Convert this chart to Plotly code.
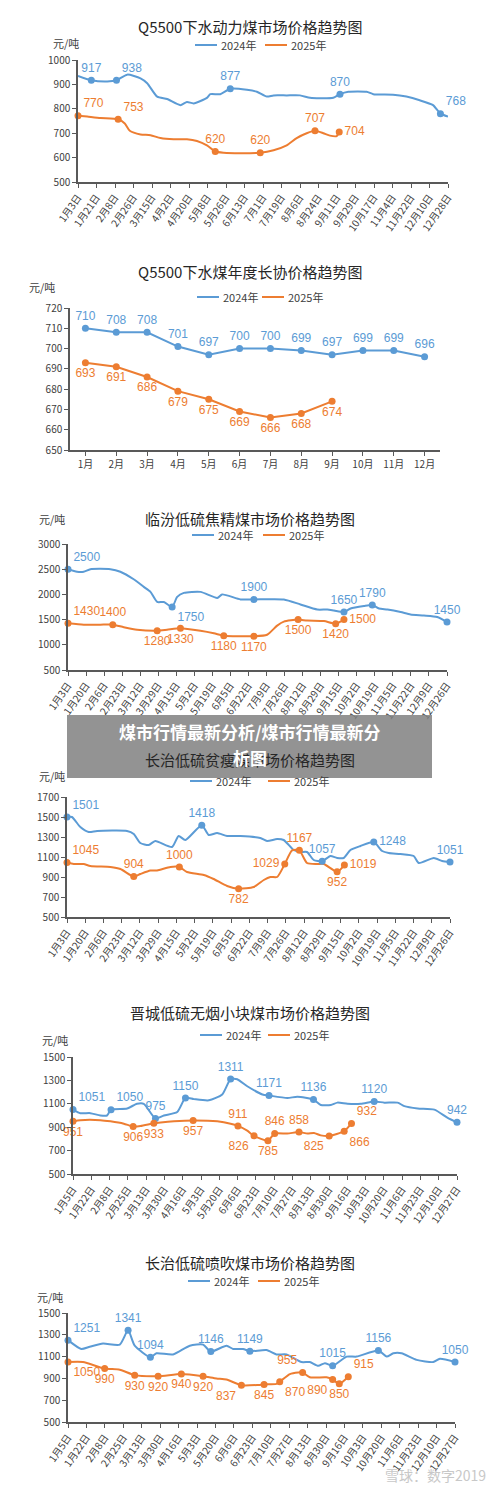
import plotly.graph_objects as go

BLUE = "#5b9bd5"
ORANGE = "#ed7d31"
FONT = "Noto Sans CJK SC"
H = 1493
W = 500
OFF = 8  # page offset of the figure in the browser

# ---------- Panel 1: Q5500下水动力煤 ----------
p1_ticks = ["1月3日","1月21日","2月8日","2月26日","3月15日","4月2日","4月20日","5月8日","5月26日","6月13日","7月1日","7月19日","8月6日","8月24日","9月11日","9月29日","10月17日","11月4日","11月22日","12月10日","12月28日"]
p1_b_x = [0,0.72,1.58,2.08,2.66,3.38,3.74,4.28,4.82,5.53,5.89,6.25,6.97,7.15,7.69,8.23,9.13,9.67,10.21,10.57,11.28,12.0,12.54,13.08,13.8,14.16,14.61,15.6,15.96,17.03,17.75,18.47,19.19,19.59,20]
p1_b_y = [935,917,912,917,940,925,905,850,840,815,828,822,845,860,860,882,878,870,850,855,855,855,845,843,845,860,870,870,860,858,850,835,815,780,768]
p1_o_x = [0,0.5,1.22,2.17,2.53,2.8,3.38,3.92,4.46,5.17,5.89,6.43,6.97,7.42,7.87,8.77,9.85,10.57,11.28,11.82,12.36,12.81,13.26,13.62,13.98,14.12]
p1_o_y = [772,768,762,757,740,710,695,692,680,675,675,668,650,625,620,618,620,630,650,680,700,710,700,690,688,705]
p1_bl = [(0.72,917,"917","top center"),(2.08,917,"938","top right"),(8.23,882,"877","top center"),(14.16,860,"870","top center"),(19.59,780,"768","top right")]
p1_ol = [(0,772,"770","top right"),(2.17,757,"753","top right"),(7.42,625,"620","top center"),(9.85,620,"620","top center"),(12.81,710,"707","top center"),(14.12,705,"704","middle right")]

# ---------- Panel 2: Q5500下水煤年度长协 ----------
p2_ticks = ["1月","2月","3月","4月","5月","6月","7月","8月","9月","10月","11月","12月"]
p2_b = [710,708,708,701,697,700,700,699,697,699,699,696]
p2_o = [693,691,686,679,675,669,666,668,674]

# ---------- Panel 3: 临汾低硫焦精煤 ----------
p3_ticks = ["1月3日","1月20日","2月6日","2月23日","3月12日","3月29日","4月15日","5月2日","5月19日","6月5日","6月22日","7月9日","7月26日","8月12日","8月29日","9月15日","10月2日","10月19日","11月5日","11月22日","12月9日","12月26日"]
p3_b_x = [0,0.5,0.87,1.24,2.35,2.9,3.64,4.2,4.57,4.94,5.31,5.77,6.05,6.42,7.34,8.27,8.54,9.56,10.3,11.96,12.88,13.81,14.37,14.74,15.29,15.66,16.4,16.86,17.23,17.7,18.43,18.98,19.72,20.46,21]
p3_b_y = [2500,2450,2450,2500,2500,2450,2300,2150,2050,1850,1850,1750,1950,2030,2050,1930,2000,1900,1900,1900,1800,1700,1700,1680,1650,1720,1770,1790,1720,1700,1650,1600,1580,1550,1450]
p3_o_x = [0,0.87,1.79,2.48,3.09,3.83,4.94,5.49,6.23,7.34,8.08,8.63,9.56,10.3,11.03,11.59,11.96,12.75,13.25,14.18,14.83,15.29]
p3_o_y = [1430,1400,1400,1400,1350,1300,1280,1300,1330,1280,1230,1180,1170,1170,1200,1380,1460,1500,1480,1470,1420,1500]
p3_bl = [(0,2500,"2500","top right"),(5.77,1750,"1750","bottom right"),(10.3,1900,"1900","top center"),(15.29,1650,"1650","top center"),(16.86,1790,"1790","top center"),(21,1450,"1450","top center")]
p3_ol = [(0,1430,"1430","top right"),(2.48,1400,"1400","top center"),(4.94,1280,"1280","bottom center"),(6.23,1330,"1330","bottom center"),(8.63,1180,"1180","bottom center"),(10.3,1170,"1170","bottom center"),(12.75,1500,"1500","bottom center"),(14.83,1420,"1420","bottom center"),(15.29,1500,"1500","middle right")]

# ---------- Panel 4: 长治低硫贫瘦煤 ----------
p4_ticks = p3_ticks
p4_b_x = [0,0.27,0.73,1.19,1.65,3.29,3.66,4.02,4.48,4.84,5.76,6.12,6.49,7.39,7.77,8.23,8.78,9.51,10.6,10.97,11.52,11.88,12.43,12.8,13.16,13.53,13.99,14.44,14.81,15.17,15.54,16.09,16.82,17.28,17.64,18.28,19.01,19.29,20.11,20.57,21]
p4_b_y = [1501,1500,1400,1350,1360,1360,1330,1240,1220,1260,1200,1310,1270,1418,1320,1340,1310,1310,1290,1260,1280,1270,1170,1150,1150,1070,1057,1110,1090,1090,1170,1210,1250,1160,1140,1130,1110,1040,1090,1060,1051]
p4_o_x = [0,0.37,0.91,1.28,2.38,2.93,3.66,4.02,4.57,4.94,5.67,6.16,6.58,7.5,8.04,8.78,9.41,10.24,10.79,11.15,11.52,11.94,12.34,12.74,13.16,13.71,14.08,14.81,15.21]
p4_o_y = [1045,1030,1030,1010,1000,980,904,930,965,965,1000,1000,950,920,880,810,782,800,870,900,900,1029,1167,1167,1040,1030,1030,952,1019]
p4_bl = [(0,1501,"1501","top right"),(7.39,1418,"1418","top center"),(13.99,1057,"1057","top center"),(16.82,1250,"1248","middle right"),(21,1051,"1051","top center")]
p4_ol = [(0,1045,"1045","top right"),(3.66,904,"904","top center"),(6.16,1000,"1000","top center"),(9.41,782,"782","bottom center"),(11.94,1029,"1029","middle left"),(12.74,1167,"1167","top center"),(14.81,952,"952","bottom center"),(15.21,1019,"1019","middle right")]

# ---------- Panel 5: 晋城低硫无烟小块煤 ----------
p5_ticks = ["1月5日","1月22日","2月8日","2月25日","3月13日","3月30日","4月16日","5月3日","5月20日","6月6日","6月23日","7月10日","7月27日","8月13日","8月30日","9月16日","10月3日","10月20日","11月6日","11月23日","12月10日","12月27日"]
p5_b_x = [0,0.4,0.95,1.5,1.86,2.08,2.96,3.5,3.87,4.51,4.97,5.7,6.15,6.61,7.43,8.16,8.62,8.98,9.53,10.36,10.72,11.72,12.27,13.15,13.55,14.1,14.46,15.01,15.74,16.47,17.03,17.75,18.12,18.85,19.76,20.49,21]
p5_b_y = [1051,1020,1020,1000,1000,1050,1060,1100,1100,975,1000,1030,1150,1140,1130,1180,1311,1310,1250,1180,1171,1150,1160,1136,1090,1090,1110,1100,1100,1120,1110,1110,1080,1060,1050,980,942]
p5_o_x = [0,0.4,1.5,2.05,2.78,3.29,3.69,4.42,4.79,5.52,6.57,7.89,8.62,9.02,9.53,9.9,10.66,11.03,11.72,12.36,12.82,13.18,13.55,14.01,14.83,15.23]
p5_o_y = [951,960,960,950,930,906,910,933,940,950,957,950,930,911,870,826,785,846,846,858,846,850,830,825,866,932]
p5_bl = [(0,1051,"1051","top right"),(2.08,1050,"1050","top right"),(4.51,975,"975","top center"),(6.15,1150,"1150","top center"),(8.62,1311,"1311","top center"),(10.72,1171,"1171","top center"),(13.15,1136,"1136","top center"),(16.47,1120,"1120","top center"),(21,942,"942","top center")]
p5_ol = [(0,951,"951","bottom center"),(3.29,906,"906","bottom center"),(4.42,933,"933","bottom center"),(6.57,957,"957","bottom center"),(9.02,911,"911","top center"),(9.9,826,"826","bottom left"),(10.66,785,"785","bottom center"),(11.03,846,"846","top center"),(12.36,858,"858","top center"),(14.01,825,"825","bottom left"),(14.83,866,"866","bottom right"),(15.23,932,"932","top right")]

# ---------- Panel 6: 长治低硫喷吹煤 ----------
p6_ticks = p5_ticks
p6_b_x = [0,0.72,1.18,1.9,2.81,3.26,3.62,4.47,4.8,5.7,6.61,7.33,7.75,8.6,8.96,9.5,9.87,10.77,11.31,11.86,12.67,13.12,13.58,13.94,14.36,15.12,15.66,16.84,17.29,17.65,18.1,18.92,19.82,20.18,21]
p6_b_y = [1251,1170,1190,1220,1210,1341,1200,1094,1130,1120,1200,1210,1146,1200,1170,1170,1149,1160,1120,1120,1050,1050,1015,1040,1015,1100,1100,1156,1100,1130,1130,1070,1050,1080,1050]
p6_o_x = [0,0.81,1.99,2.81,3.62,4.89,6.15,7.33,8.06,8.6,9.41,10.32,10.64,11.31,11.49,12.04,12.49,12.73,13.12,14.03,14.36,14.72,15.21]
p6_o_y = [1050,1050,990,980,930,920,940,920,900,890,837,840,845,850,870,940,955,955,910,910,890,850,915]
p6_bl = [(0,1251,"1251","top right"),(3.26,1341,"1341","top center"),(4.47,1094,"1094","top center"),(7.75,1146,"1146","top center"),(9.87,1149,"1149","top center"),(14.36,1015,"1015","top center"),(16.84,1156,"1156","top center"),(21,1050,"1050","top center")]
p6_ol = [(0,1050,"1050","bottom right"),(1.99,990,"990","bottom center"),(3.62,930,"930","bottom center"),(4.89,920,"920","bottom center"),(6.15,940,"940","bottom center"),(7.33,920,"920","bottom center"),(9.41,837,"837","bottom left"),(10.64,845,"845","bottom center"),(11.49,870,"870","bottom right"),(12.73,955,"955","top left"),(14.36,890,"890","bottom left"),(14.72,850,"850","bottom center"),(15.21,915,"915","top right")]

fig = go.Figure()
shapes, annos = [], []

def py(p):
    return 1 - (p - OFF) / H

def px(p):
    return (p - OFF) / W

def add_panel(i, title, ticks, yr, dtick, xpx, ypx, title_px, leg_px, unit_pos,
              bx, by, ox, oy, bl, ol, rotate=True, xpad=0.0, shape="spline"):
    ax = "" if i == 1 else str(i)
    xa, ya = "x" + ax, "y" + ax
    for xs, ys, c in ((bx, by, BLUE), (ox, oy, ORANGE)):
        fig.add_trace(go.Scatter(x=xs, y=ys, mode="lines", xaxis=xa, yaxis=ya,
                                 line=dict(color=c, width=2, shape=shape, smoothing=0.6),
                                 showlegend=False, hoverinfo="skip"))
    for lab, c in ((bl, BLUE), (ol, ORANGE)):
        fig.add_trace(go.Scatter(x=[l[0] for l in lab], y=[l[1] for l in lab],
                                 text=[l[2] for l in lab], textposition=[l[3] for l in lab],
                                 mode="markers+text", xaxis=xa, yaxis=ya,
                                 marker=dict(color=c, size=7),
                                 textfont=dict(color=c, size=12, family="Liberation Sans"),
                                 showlegend=False, hoverinfo="skip", cliponaxis=False))
    n = len(ticks)
    axis_common = dict(showgrid=False, showline=True, linecolor="#595959", linewidth=1.5,
                       ticks="outside", tickcolor="#595959", ticklen=4, zeroline=False,
                       tickfont=dict(size=10, color="#404040", family=FONT))
    fig.layout["xaxis" + ax] = dict(domain=[px(xpx[0]), px(xpx[1])], anchor=ya,
                                    range=[-xpad, n - 1 + xpad],
                                    tickmode="array", tickvals=list(range(n)), ticktext=ticks,
                                    tickangle=-55 if rotate else 0, automargin=False, **axis_common)
    fig.layout["yaxis" + ax] = dict(domain=[py(ypx[1]), py(ypx[0])], anchor=xa, range=yr,
                                    dtick=dtick, tick0=yr[0], automargin=False, **axis_common)
    annos.append(dict(text=title, x=px(250), y=py(title_px), xref="paper", yref="paper",
                      xanchor="center", yanchor="middle", showarrow=False,
                      font=dict(size=15, color="#262626", family=FONT)))
    annos.append(dict(text="元/吨", x=px(unit_pos[0]), y=py(unit_pos[1]), xref="paper",
                      yref="paper", xanchor="center", yanchor="middle", showarrow=False,
                      font=dict(size=11, color="#404040", family=FONT)))
    for cx, c, t in ((leg_px[0], BLUE, "2024年"), (leg_px[1], ORANGE, "2025年")):
        shapes.append(dict(type="line", xref="paper", yref="paper", x0=px(cx),
                           x1=px(cx + 22), y0=py(leg_px[2]), y1=py(leg_px[2]),
                           line=dict(color=c, width=2)))
        annos.append(dict(text=t, x=px(cx + 24), y=py(leg_px[2]), xref="paper", yref="paper",
                          xanchor="left", yanchor="middle", showarrow=False,
                          font=dict(size=11, color="#404040", family=FONT)))

add_panel(1, "Q5500下水动力煤市场价格趋势图", p1_ticks, [500, 1000], 100, (78, 448), (60, 182),
          27, (195, 265, 45), (66, 43), p1_b_x, p1_b_y, p1_o_x, p1_o_y, p1_bl, p1_ol)
m = list(range(12))
add_panel(2, "Q5500下水煤年度长协价格趋势图", p2_ticks, [650, 720], 10, (70, 440), (308, 450),
          272, (197, 262, 297), (42, 287), m, p2_b, m[:9], p2_o,
          [(m[k], p2_b[k], str(p2_b[k]), "top center") for k in m],
          [(m[k], p2_o[k], str(p2_o[k]), "bottom center") for k in range(9)],
          rotate=False, xpad=0.5, shape="linear")
add_panel(3, "临汾低硫焦精煤市场价格趋势图", p3_ticks, [500, 3000], 500, (68, 447), (544, 670),
          518, (192, 263, 535), (52, 519), p3_b_x, p3_b_y, p3_o_x, p3_o_y, p3_bl, p3_ol)
add_panel(4, "长治低硫贫瘦煤市场价格趋势图", p4_ticks, [500, 1700], 200, (67, 450), (797, 917),
          760, (190, 268, 781), (52, 776), p4_b_x, p4_b_y, p4_o_x, p4_o_y, p4_bl, p4_ol)
add_panel(5, "晋城低硫无烟小块煤市场价格趋势图", p5_ticks, [500, 1500], 200, (73, 457), (1057, 1174),
          1012, (200, 268, 1035), (55, 1040), p5_b_x, p5_b_y, p5_o_x, p5_o_y, p5_bl, p5_ol)
add_panel(6, "长治低硫喷吹煤市场价格趋势图", p6_ticks, [500, 1500], 200, (68, 455), (1313, 1422),
          1262, (188, 258, 1281), (50, 1297), p6_b_x, p6_b_y, p6_o_x, p6_o_y, p6_bl, p6_ol)

# banner overlay
shapes.append(dict(type="rect", xref="paper", yref="paper", x0=px(67), x1=px(432),
                   y0=py(778), y1=py(715), fillcolor="rgba(128,128,128,0.85)", line=dict(width=0)))
annos.append(dict(text="<b>煤市行情最新分析/煤市行情最新分</b>", x=px(250), y=py(731), xref="paper",
                  yref="paper", yanchor="middle", showarrow=False,
                  font=dict(size=17, color="white", family=FONT)))
annos.append(dict(text="<b>析图</b>", x=px(250), y=py(757), xref="paper", yref="paper",
                  yanchor="middle", showarrow=False, font=dict(size=17, color="white", family=FONT)))
annos.append(dict(text="雪球：数字2019", x=px(488), y=py(1475), xref="paper", yref="paper",
                  xanchor="right", yanchor="middle", showarrow=False,
                  font=dict(size=14, color="#c8c8c8", family=FONT)))

fig.update_layout(width=W, height=H, margin=dict(l=0, r=0, t=0, b=0, autoexpand=False),
                  plot_bgcolor="white", paper_bgcolor="white", shapes=shapes, annotations=annos,
                  font=dict(family=FONT))
fig.write_html("out.html")
